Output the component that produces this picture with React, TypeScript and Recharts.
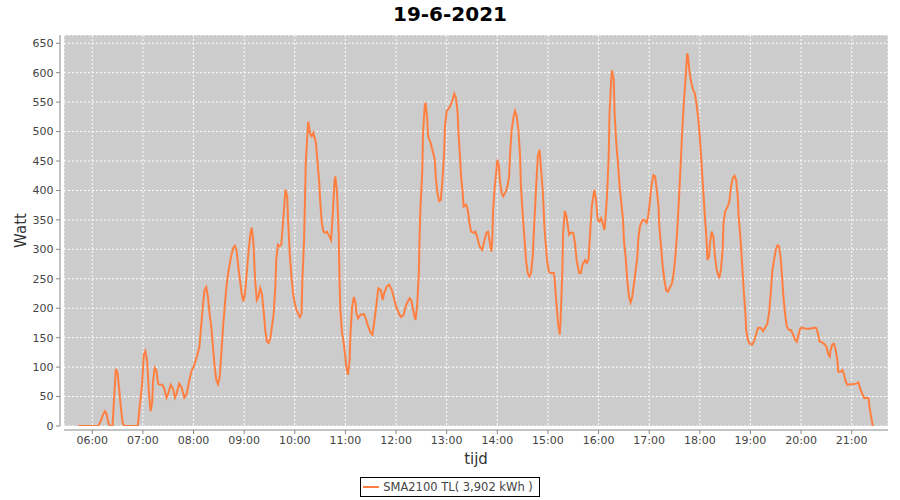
import React from 'react';
import { LineChart, Line, XAxis, YAxis, CartesianGrid, Legend, ReferenceArea } from 'recharts';

const chartTitle = '19-6-2021';
const seriesName = 'SMA2100 TL( 3,902 kWh )';
const xAxisLabel = 'tijd';
const yAxisLabel = 'Watt';

const times = [
  '05:43','06:07','06:10','06:13','06:15','06:17','06:19','06:21','06:24','06:26','06:28','06:30','06:32','06:34','06:36','06:38',
  '06:54','06:56','06:59','07:01','07:03','07:05','07:07','07:09','07:11','07:12','07:14','07:16','07:18','07:20','07:23','07:25',
  '07:28','07:30','07:33','07:36','07:38','07:40','07:43','07:46','07:49','07:52','07:55','07:58','08:00','08:04','08:07','08:09',
  '08:11','08:13','08:15','08:17','08:19','08:21','08:23','08:25','08:27','08:29','08:31','08:33','08:35','08:37','08:39','08:41',
  '08:43','08:45','08:47','08:49','08:51','08:53','08:55','08:57','08:59','09:01','09:03','09:05','09:07','09:09','09:11','09:13',
  '09:15','09:17','09:19','09:21','09:23','09:25','09:27','09:29','09:31','09:33','09:35','09:37','09:38','09:40','09:42','09:44',
  '09:46','09:48','09:49','09:51','09:52','09:54','09:56','09:58','10:00','10:02','10:04','10:06','10:08','10:09','10:11','10:12',
  '10:13','10:15','10:16','10:18','10:20','10:22','10:25','10:27','10:29','10:30','10:32','10:34','10:36','10:38','10:41','10:43',
  '10:45','10:47','10:48','10:50','10:52','10:53','10:54','10:56','10:58','11:00','11:01','11:03','11:05','11:06','11:08','11:10',
  '11:12','11:13','11:15','11:18','11:22','11:24','11:27','11:30','11:32','11:34','11:37','11:39','11:42','11:44','11:46','11:49',
  '11:52','11:55','11:57','12:00','12:04','12:06','12:09','12:12','12:16','12:18','12:21','12:23','12:25','12:27','12:28','12:29',
  '12:31','12:32','12:34','12:35','12:37','12:38','12:41','12:43','12:46','12:47','12:49','12:51','12:53','12:55','12:57','12:58',
  '13:00','13:03','13:05','13:07','13:09','13:11','13:13','13:14','13:16','13:17','13:19','13:20','13:23','13:25','13:27','13:29',
  '13:32','13:34','13:36','13:39','13:42','13:44','13:47','13:49','13:51','13:53','13:54','13:55','13:57','13:59','14:00','14:02',
  '14:03','14:05','14:07','14:10','14:12','14:14','14:15','14:17','14:19','14:21','14:23','14:25','14:27','14:28','14:30','14:32',
  '14:34','14:36','14:38','14:40','14:42','14:44','14:46','14:48','14:50','14:51','14:54','14:56','14:59','15:01','15:03','15:07',
  '15:08','15:10','15:12','15:14','15:15','15:17','15:18','15:20','15:22','15:25','15:27','15:30','15:32','15:34','15:37','15:39',
  '15:41','15:44','15:46','15:48','15:50','15:52','15:55','15:57','15:59','16:01','16:03','16:05','16:07','16:08','16:10','16:12',
  '16:13','16:15','16:16','16:18','16:19','16:21','16:23','16:25','16:27','16:29','16:30','16:32','16:34','16:36','16:38','16:40',
  '16:42','16:44','16:46','16:47','16:49','16:52','16:54','16:57','16:59','17:01','17:03','17:05','17:07','17:09','17:11','17:12',
  '17:14','17:16','17:18','17:20','17:22','17:24','17:27','17:29','17:31','17:33','17:35','17:37','17:39','17:41','17:43','17:45',
  '17:46','17:48','17:50','17:52','17:54','17:56','17:58','18:00','18:02','18:04','18:06','18:08','18:09','18:11','18:12','18:14',
  '18:16','18:18','18:20','18:23','18:25','18:27','18:28','18:30','18:33','18:35','18:37','18:39','18:41','18:43','18:45','18:46',
  '18:48','18:50','18:52','18:54','18:55','18:57','18:59','19:02','19:04','19:07','19:09','19:12','19:15','19:17','19:20','19:22',
  '19:24','19:26','19:28','19:30','19:32','19:34','19:36','19:38','19:39','19:41','19:43','19:46','19:48','19:50','19:53','19:55',
  '19:57','19:59','20:02','20:05','20:07','20:10','20:13','20:16','20:18','20:20','20:22','20:25','20:27','20:30','20:32','20:34',
  '20:35','20:37','20:39','20:41','20:43','20:44','20:47','20:49','20:51','20:53','20:55','20:58','21:02','21:05','21:08','21:10',
  '21:13','21:15','21:17','21:20','21:21','21:23','21:25'
];

const watts = [
  0,0,8,20,25,20,5,0,0,50,97,90,60,30,5,0,
  0,30,70,120,127,110,60,25,40,75,99,95,72,70,70,65,
  48,55,70,62,48,55,72,65,48,55,78,95,100,118,135,169,
  203,231,236,220,191,169,135,101,78,71,84,124,169,203,237,259,
  276,291,302,306,299,271,248,225,212,225,259,293,322,337,310,248,
  214,220,234,225,197,163,143,141,149,169,191,237,282,308,305,308,
  344,384,401,390,350,293,254,225,208,197,191,185,191,248,316,378,
  446,497,517,497,492,498,481,447,413,384,345,330,328,330,322,316,
  360,415,424,398,330,248,197,158,141,115,101,87,112,158,203,219,
  209,192,183,189,190,183,169,158,155,175,209,234,231,214,226,237,
  240,231,220,203,189,185,189,206,217,214,192,180,203,260,328,373,
  430,498,543,549,520,492,481,469,452,424,396,382,384,418,464,509,
  535,540,546,554,564,557,532,498,452,424,396,373,376,367,345,330,
  328,330,322,305,299,311,328,330,313,296,316,367,407,435,452,441,
  418,396,390,398,407,424,458,503,523,535,526,503,458,407,362,322,
  282,260,254,260,289,350,407,458,469,452,396,333,282,262,260,260,
  248,209,175,155,180,260,328,365,356,325,328,328,311,282,260,260,
  274,282,277,282,328,373,401,384,350,347,353,344,333,350,390,458,
  531,588,604,588,531,480,446,407,378,350,316,288,248,220,210,220,
  242,265,288,316,339,350,350,345,358,384,412,426,424,401,373,339,
  305,271,248,231,228,234,242,259,288,327,378,435,497,548,588,633,
  627,599,582,571,565,548,525,491,446,401,356,316,282,288,310,330,
  322,288,265,251,265,299,344,364,373,381,407,421,425,418,390,356,
  322,277,231,191,163,146,140,138,143,157,167,167,161,166,174,191,
  225,265,282,299,307,305,282,242,220,191,169,163,163,157,146,143,
  155,166,167,165,165,165,166,167,166,157,143,142,140,135,123,118,
  129,138,140,129,112,92,92,95,87,75,70,71,71,72,74,64,
  53,47,48,47,33,16,0
];

const xTickLabels = ['06:00','07:00','08:00','09:00','10:00','11:00','12:00','13:00','14:00','15:00','16:00','17:00','18:00','19:00','20:00','21:00'];
const yTicks = [0, 50, 100, 150, 200, 250, 300, 350, 400, 450, 500, 550, 600, 650];
const xDomain = ['05:26:30', '21:43'];
const yMax = 664;

const toMin = (t: string) => {
  const p = t.split(':').map(Number);
  return p[0] * 60 + p[1] + (p[2] ? p[2] / 60 : 0);
};
const fmt = (m: number) => {
  const h = Math.floor(m / 60);
  const mm = Math.round(m - h * 60);
  return `${String(h).padStart(2, '0')}:${String(mm).padStart(2, '0')}`;
};

const data = times.map((t, i) => ({ t: toMin(t), w: watts[i] }));
const xTicks = xTickLabels.map(toMin);

const FONT = '"DejaVu Sans", sans-serif';
const LINE_COLOR = '#ff7f40';

const YLabel = (props: any) => {
  const vb = props.viewBox || {};
  const cx = vb.x + 21;
  const cy = vb.y + vb.height / 2;
  return (
    <text x={cx} y={cy} transform={`rotate(-90, ${cx}, ${cy})`} textAnchor="middle" dominantBaseline="central"
      fontFamily={FONT} fontSize={15} fill="#333">{yAxisLabel}</text>
  );
};

const XLabel = (props: any) => {
  const vb = props.viewBox || {};
  const cx = vb.x + vb.width / 2;
  const cy = vb.y + 38;
  return (
    <text x={cx} y={cy} textAnchor="middle" fontFamily={FONT} fontSize={15} fill="#333">{xAxisLabel}</text>
  );
};

const LegendBox = (props: any) => {
  const payload = props.payload || [];
  return (
    <div style={{ height: 30, paddingTop: 7, boxSizing: 'border-box', display: 'flex', justifyContent: 'center' }}>
      {payload.map((p: any) => (
        <div key={p.value} style={{ border: '1px solid #000', height: 20, boxSizing: 'border-box', display: 'flex', alignItems: 'center', padding: '0 6px 0 2px', fontFamily: FONT, fontSize: 11.5, color: '#444', background: '#fff' }}>
          <svg width={16} height={4} style={{ display: 'block' }}>
            <line x1={0} y1={2} x2={16} y2={2} stroke={p.color} strokeWidth={2} />
          </svg>
          <span style={{ marginLeft: 4, whiteSpace: 'pre' }}>{p.value}</span>
        </div>
      ))}
    </div>
  );
};

export default function App() {
  return (
    <div style={{ position: 'absolute', left: 0, top: 0, width: 900, height: 500, background: '#fff' }}>
      <div style={{ position: 'absolute', left: 0, top: 2, width: 900, textAlign: 'center', fontFamily: FONT, fontWeight: 'bold', fontSize: 20, color: '#000', lineHeight: '24px' }}>
        {chartTitle}
      </div>
      <LineChart width={900} height={500} data={data} margin={{ top: 35, right: 12, left: 0, bottom: 0 }}>
        <CartesianGrid stroke="#ffffff" strokeDasharray="2 2" fill="#cccccc" fillOpacity={1} />
        <XAxis dataKey="t" type="number" domain={[toMin(xDomain[0]), toMin(xDomain[1])]} ticks={xTicks} interval={0}
          tickFormatter={fmt} height={44} tickSize={4} tickMargin={6.5}
          tick={{ fill: '#444', fontSize: 11, fontFamily: FONT }}
          axisLine={{ stroke: '#888', transform: 'translate(0,4)' }}
          tickLine={{ stroke: '#888', transform: 'translate(0,4)' }}
          label={<XLabel />} allowDataOverflow />
        <YAxis type="number" domain={[0, yMax]} ticks={yTicks} interval={0} width={64} tickSize={4} tickMargin={6.5}
          tick={{ fill: '#444', fontSize: 11, fontFamily: FONT }}
          axisLine={{ stroke: '#888', transform: 'translate(-4,0)' }}
          tickLine={{ stroke: '#888', transform: 'translate(-4,0)' }}
          label={<YLabel />} allowDataOverflow />
        <ReferenceArea fill="none" stroke="#000" strokeWidth={1} shapeRendering="crispEdges" ifOverflow="visible" />
        <Line type="linear" dataKey="w" name={seriesName} stroke={LINE_COLOR} strokeWidth={2} dot={false} activeDot={false} isAnimationActive={false} />
        <Legend verticalAlign="bottom" content={<LegendBox />} wrapperStyle={{ left: 0, width: 900 }} />
      </LineChart>
    </div>
  );
}
